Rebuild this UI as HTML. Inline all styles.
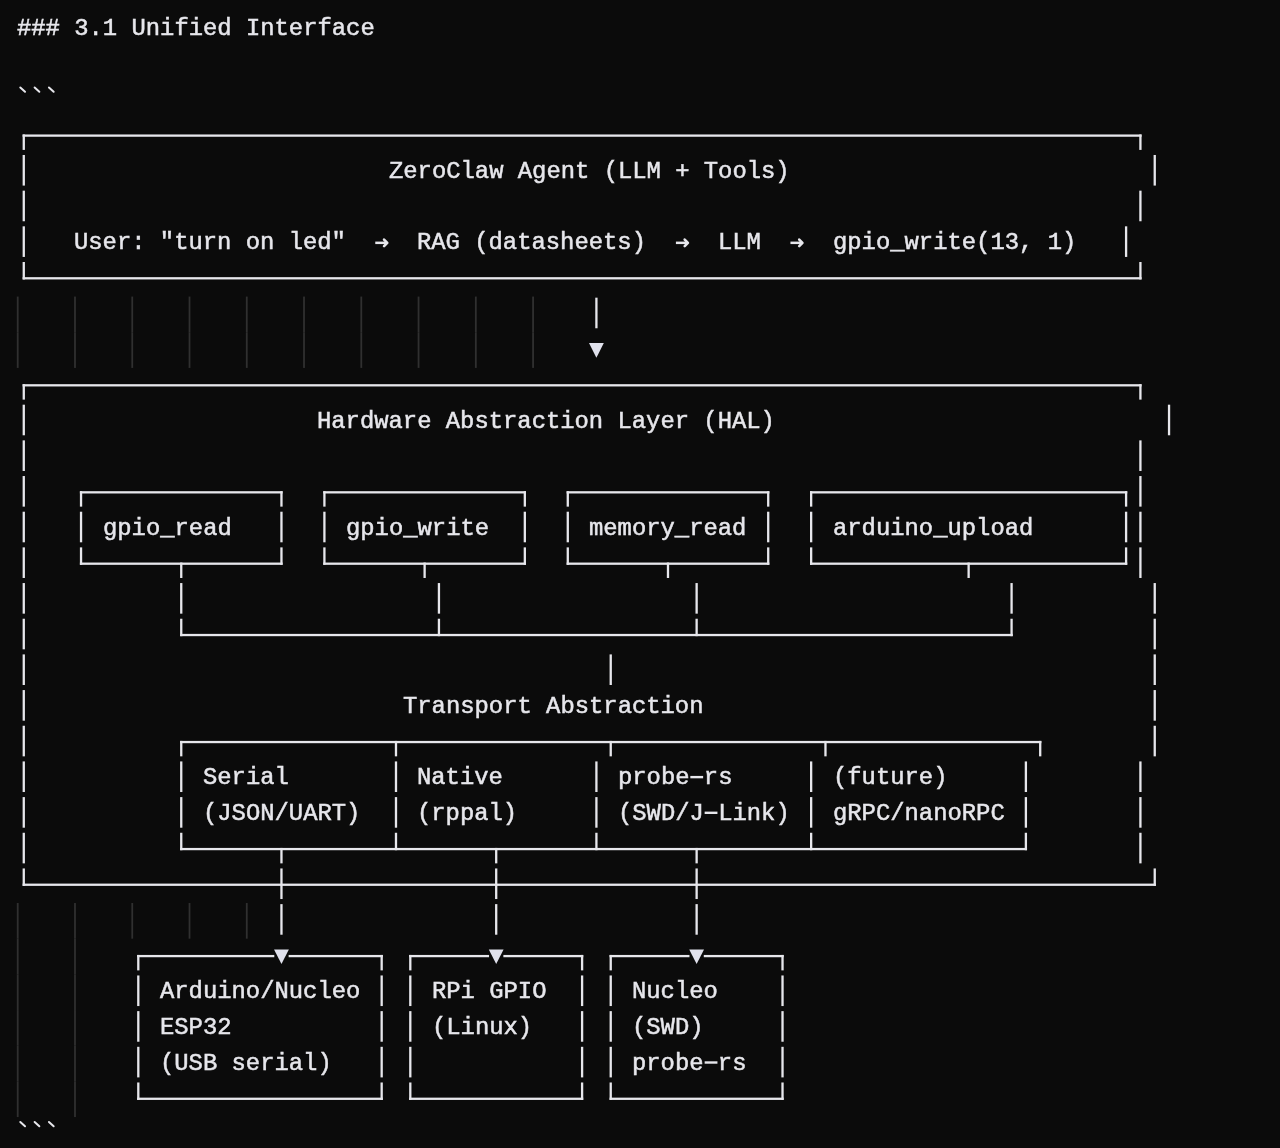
<!DOCTYPE html>
<html><head><meta charset="utf-8"><style>
html,body{margin:0;padding:0;background:#0b0b0b;width:1280px;height:1148px;overflow:hidden;}
.t{position:absolute;font-family:"Liberation Mono",monospace;font-size:23.857px;line-height:35.673px;height:35.673px;white-space:pre;color:#e7e7ec;-webkit-text-stroke:0.5px #e7e7ec;will-change:transform;}
.g{position:absolute;width:1px;height:35.67px;background:#303030;}
svg{position:absolute;left:0;top:0;}
</style></head><body>
<svg width="1280" height="1148" viewBox="0 0 1280 1148"><g fill="#303030"><rect x="16.81" y="296.57" width="1.8" height="35.67"/><rect x="74.08" y="296.57" width="1.8" height="35.67"/><rect x="131.34" y="296.57" width="1.8" height="35.67"/><rect x="188.61" y="296.57" width="1.8" height="35.67"/><rect x="245.87" y="296.57" width="1.8" height="35.67"/><rect x="303.13" y="296.57" width="1.8" height="35.67"/><rect x="360.40" y="296.57" width="1.8" height="35.67"/><rect x="417.66" y="296.57" width="1.8" height="35.67"/><rect x="474.93" y="296.57" width="1.8" height="35.67"/><rect x="532.19" y="296.57" width="1.8" height="35.67"/><rect x="16.81" y="332.25" width="1.8" height="35.67"/><rect x="74.08" y="332.25" width="1.8" height="35.67"/><rect x="131.34" y="332.25" width="1.8" height="35.67"/><rect x="188.61" y="332.25" width="1.8" height="35.67"/><rect x="245.87" y="332.25" width="1.8" height="35.67"/><rect x="303.13" y="332.25" width="1.8" height="35.67"/><rect x="360.40" y="332.25" width="1.8" height="35.67"/><rect x="417.66" y="332.25" width="1.8" height="35.67"/><rect x="474.93" y="332.25" width="1.8" height="35.67"/><rect x="532.19" y="332.25" width="1.8" height="35.67"/><rect x="16.81" y="903.01" width="1.8" height="35.67"/><rect x="74.08" y="903.01" width="1.8" height="35.67"/><rect x="131.34" y="903.01" width="1.8" height="35.67"/><rect x="188.61" y="903.01" width="1.8" height="35.67"/><rect x="245.87" y="903.01" width="1.8" height="35.67"/><rect x="16.81" y="938.69" width="1.8" height="35.67"/><rect x="74.08" y="938.69" width="1.8" height="35.67"/><rect x="16.81" y="974.36" width="1.8" height="35.67"/><rect x="74.08" y="974.36" width="1.8" height="35.67"/><rect x="16.81" y="1010.03" width="1.8" height="35.67"/><rect x="74.08" y="1010.03" width="1.8" height="35.67"/><rect x="16.81" y="1045.71" width="1.8" height="35.67"/><rect x="74.08" y="1045.71" width="1.8" height="35.67"/><rect x="16.81" y="1081.38" width="1.8" height="35.67"/><rect x="74.08" y="1081.38" width="1.8" height="35.67"/></g><g fill="#e7e7ec"><rect x="22.62" y="134.46" width="2.30" height="15.45"/><rect x="1139.27" y="134.46" width="2.30" height="15.45"/><rect x="22.62" y="134.46" width="1118.95" height="2.30"/><rect x="22.62" y="154.98" width="2.30" height="30.60"/><rect x="1153.59" y="154.98" width="2.30" height="30.60"/><rect x="22.62" y="190.66" width="2.30" height="30.60"/><rect x="1139.27" y="190.66" width="2.30" height="30.60"/><rect x="22.62" y="226.33" width="2.30" height="30.60"/><rect x="1124.95" y="226.33" width="2.30" height="30.60"/><rect x="22.62" y="262.00" width="2.30" height="17.45"/><rect x="1139.27" y="262.00" width="2.30" height="17.45"/><rect x="22.62" y="277.15" width="1118.95" height="2.30"/><rect x="595.26" y="297.67" width="2.30" height="30.60"/><rect x="22.62" y="384.17" width="2.30" height="15.45"/><rect x="1139.27" y="384.17" width="2.30" height="15.45"/><rect x="22.62" y="384.17" width="1118.95" height="2.30"/><rect x="22.62" y="404.69" width="2.30" height="30.60"/><rect x="1167.90" y="404.69" width="2.30" height="30.60"/><rect x="22.62" y="440.37" width="2.30" height="30.60"/><rect x="1139.27" y="440.37" width="2.30" height="30.60"/><rect x="22.62" y="476.04" width="2.30" height="30.60"/><rect x="79.89" y="491.19" width="2.30" height="15.45"/><rect x="280.31" y="491.19" width="2.30" height="15.45"/><rect x="323.26" y="491.19" width="2.30" height="15.45"/><rect x="523.68" y="491.19" width="2.30" height="15.45"/><rect x="566.63" y="491.19" width="2.30" height="15.45"/><rect x="767.06" y="491.19" width="2.30" height="15.45"/><rect x="810.00" y="491.19" width="2.30" height="15.45"/><rect x="1124.95" y="491.19" width="2.30" height="15.45"/><rect x="1139.27" y="476.04" width="2.30" height="30.60"/><rect x="79.89" y="491.19" width="202.72" height="2.30"/><rect x="323.26" y="491.19" width="202.72" height="2.30"/><rect x="566.63" y="491.19" width="202.72" height="2.30"/><rect x="810.00" y="491.19" width="317.25" height="2.30"/><rect x="22.62" y="511.71" width="2.30" height="30.60"/><rect x="79.89" y="511.71" width="2.30" height="30.60"/><rect x="280.31" y="511.71" width="2.30" height="30.60"/><rect x="323.26" y="511.71" width="2.30" height="30.60"/><rect x="523.68" y="511.71" width="2.30" height="30.60"/><rect x="566.63" y="511.71" width="2.30" height="30.60"/><rect x="767.06" y="511.71" width="2.30" height="30.60"/><rect x="810.00" y="511.71" width="2.30" height="30.60"/><rect x="1124.95" y="511.71" width="2.30" height="30.60"/><rect x="1139.27" y="511.71" width="2.30" height="30.60"/><rect x="22.62" y="547.38" width="2.30" height="30.60"/><rect x="79.89" y="547.38" width="2.30" height="17.45"/><rect x="180.10" y="562.54" width="2.30" height="15.45"/><rect x="280.31" y="547.38" width="2.30" height="17.45"/><rect x="323.26" y="547.38" width="2.30" height="17.45"/><rect x="423.47" y="562.54" width="2.30" height="15.45"/><rect x="523.68" y="547.38" width="2.30" height="17.45"/><rect x="566.63" y="547.38" width="2.30" height="17.45"/><rect x="666.84" y="562.54" width="2.30" height="15.45"/><rect x="767.06" y="547.38" width="2.30" height="17.45"/><rect x="810.00" y="547.38" width="2.30" height="17.45"/><rect x="967.48" y="562.54" width="2.30" height="15.45"/><rect x="1124.95" y="547.38" width="2.30" height="17.45"/><rect x="1139.27" y="547.38" width="2.30" height="30.60"/><rect x="79.89" y="562.54" width="202.72" height="2.30"/><rect x="323.26" y="562.54" width="202.72" height="2.30"/><rect x="566.63" y="562.54" width="202.72" height="2.30"/><rect x="810.00" y="562.54" width="317.25" height="2.30"/><rect x="22.62" y="583.06" width="2.30" height="30.60"/><rect x="180.10" y="583.06" width="2.30" height="30.60"/><rect x="437.79" y="583.06" width="2.30" height="30.60"/><rect x="695.48" y="583.06" width="2.30" height="30.60"/><rect x="1010.43" y="583.06" width="2.30" height="30.60"/><rect x="1153.59" y="583.06" width="2.30" height="30.60"/><rect x="22.62" y="618.73" width="2.30" height="30.60"/><rect x="180.10" y="618.73" width="2.30" height="17.45"/><rect x="437.79" y="618.73" width="2.30" height="17.45"/><rect x="695.48" y="618.73" width="2.30" height="17.45"/><rect x="1010.43" y="618.73" width="2.30" height="17.45"/><rect x="1153.59" y="618.73" width="2.30" height="30.60"/><rect x="180.10" y="633.88" width="832.63" height="2.30"/><rect x="22.62" y="654.40" width="2.30" height="30.60"/><rect x="609.58" y="654.40" width="2.30" height="30.60"/><rect x="1153.59" y="654.40" width="2.30" height="30.60"/><rect x="22.62" y="690.08" width="2.30" height="30.60"/><rect x="1153.59" y="690.08" width="2.30" height="30.60"/><rect x="22.62" y="725.75" width="2.30" height="30.60"/><rect x="180.10" y="740.90" width="2.30" height="15.45"/><rect x="394.84" y="740.90" width="2.30" height="15.45"/><rect x="609.58" y="740.90" width="2.30" height="15.45"/><rect x="824.32" y="740.90" width="2.30" height="15.45"/><rect x="1039.06" y="740.90" width="2.30" height="15.45"/><rect x="1153.59" y="725.75" width="2.30" height="30.60"/><rect x="180.10" y="740.90" width="861.26" height="2.30"/><rect x="22.62" y="761.42" width="2.30" height="30.60"/><rect x="180.10" y="761.42" width="2.30" height="30.60"/><rect x="394.84" y="761.42" width="2.30" height="30.60"/><rect x="595.26" y="761.42" width="2.30" height="30.60"/><rect x="810.00" y="761.42" width="2.30" height="30.60"/><rect x="1024.74" y="761.42" width="2.30" height="30.60"/><rect x="1139.27" y="761.42" width="2.30" height="30.60"/><rect x="690.33" y="775.92" width="12.80" height="2.40"/><rect x="22.62" y="797.10" width="2.30" height="30.60"/><rect x="180.10" y="797.10" width="2.30" height="30.60"/><rect x="394.84" y="797.10" width="2.30" height="30.60"/><rect x="595.26" y="797.10" width="2.30" height="30.60"/><rect x="810.00" y="797.10" width="2.30" height="30.60"/><rect x="1024.74" y="797.10" width="2.30" height="30.60"/><rect x="1139.27" y="797.10" width="2.30" height="30.60"/><rect x="704.64" y="811.60" width="12.80" height="2.40"/><rect x="22.62" y="832.77" width="2.30" height="30.60"/><rect x="180.10" y="832.77" width="2.30" height="17.45"/><rect x="280.31" y="847.92" width="2.30" height="15.45"/><rect x="394.84" y="832.77" width="2.30" height="17.45"/><rect x="495.05" y="847.92" width="2.30" height="15.45"/><rect x="595.26" y="832.77" width="2.30" height="17.45"/><rect x="695.48" y="847.92" width="2.30" height="15.45"/><rect x="810.00" y="832.77" width="2.30" height="17.45"/><rect x="1024.74" y="832.77" width="2.30" height="17.45"/><rect x="1139.27" y="832.77" width="2.30" height="30.60"/><rect x="180.10" y="847.92" width="846.94" height="2.30"/><rect x="22.62" y="868.44" width="2.30" height="17.45"/><rect x="280.31" y="868.44" width="2.30" height="30.60"/><rect x="495.05" y="868.44" width="2.30" height="30.60"/><rect x="695.48" y="868.44" width="2.30" height="30.60"/><rect x="1153.59" y="868.44" width="2.30" height="17.45"/><rect x="22.62" y="883.59" width="1133.26" height="2.30"/><rect x="280.31" y="904.12" width="2.30" height="30.60"/><rect x="495.05" y="904.12" width="2.30" height="30.60"/><rect x="695.48" y="904.12" width="2.30" height="30.60"/><rect x="137.15" y="954.94" width="2.30" height="15.45"/><rect x="380.52" y="954.94" width="2.30" height="15.45"/><rect x="409.16" y="954.94" width="2.30" height="15.45"/><rect x="580.95" y="954.94" width="2.30" height="15.45"/><rect x="609.58" y="954.94" width="2.30" height="15.45"/><rect x="781.37" y="954.94" width="2.30" height="15.45"/><rect x="137.15" y="954.94" width="137.15" height="2.30"/><rect x="288.62" y="954.94" width="94.20" height="2.30"/><rect x="409.16" y="954.94" width="79.89" height="2.30"/><rect x="503.36" y="954.94" width="79.89" height="2.30"/><rect x="609.58" y="954.94" width="79.89" height="2.30"/><rect x="703.78" y="954.94" width="79.89" height="2.30"/><rect x="137.15" y="975.46" width="2.30" height="30.60"/><rect x="380.52" y="975.46" width="2.30" height="30.60"/><rect x="409.16" y="975.46" width="2.30" height="30.60"/><rect x="580.95" y="975.46" width="2.30" height="30.60"/><rect x="609.58" y="975.46" width="2.30" height="30.60"/><rect x="781.37" y="975.46" width="2.30" height="30.60"/><rect x="137.15" y="1011.13" width="2.30" height="30.60"/><rect x="380.52" y="1011.13" width="2.30" height="30.60"/><rect x="409.16" y="1011.13" width="2.30" height="30.60"/><rect x="580.95" y="1011.13" width="2.30" height="30.60"/><rect x="609.58" y="1011.13" width="2.30" height="30.60"/><rect x="781.37" y="1011.13" width="2.30" height="30.60"/><rect x="137.15" y="1046.81" width="2.30" height="30.60"/><rect x="380.52" y="1046.81" width="2.30" height="30.60"/><rect x="409.16" y="1046.81" width="2.30" height="30.60"/><rect x="580.95" y="1046.81" width="2.30" height="30.60"/><rect x="609.58" y="1046.81" width="2.30" height="30.60"/><rect x="781.37" y="1046.81" width="2.30" height="30.60"/><rect x="704.64" y="1061.31" width="12.80" height="2.40"/><rect x="137.15" y="1082.48" width="2.30" height="17.45"/><rect x="380.52" y="1082.48" width="2.30" height="17.45"/><rect x="409.16" y="1082.48" width="2.30" height="17.45"/><rect x="580.95" y="1082.48" width="2.30" height="17.45"/><rect x="609.58" y="1082.48" width="2.30" height="17.45"/><rect x="781.37" y="1082.48" width="2.30" height="17.45"/><rect x="137.15" y="1097.63" width="245.67" height="2.30"/><rect x="409.16" y="1097.63" width="174.09" height="2.30"/><rect x="609.58" y="1097.63" width="174.09" height="2.30"/></g><path fill="none" stroke="#e7e7ec" stroke-width="2.0" stroke-linecap="round" d="M20.31 87.44L25.02 91.74"/><path fill="none" stroke="#e7e7ec" stroke-width="2.0" stroke-linecap="round" d="M34.63 87.44L39.33 91.74"/><path fill="none" stroke="#e7e7ec" stroke-width="2.0" stroke-linecap="round" d="M48.95 87.44L53.65 91.74"/><path fill="none" stroke="#e7e7ec" stroke-width="2.5" stroke-linecap="butt" d="M375.27 242.83H386.67"/><path fill="none" stroke="#e7e7ec" stroke-width="2.6" stroke-linecap="round" stroke-linejoin="round" d="M384.07 239.53L387.27 242.83L384.07 246.13"/><path fill="none" stroke="#e7e7ec" stroke-width="2.5" stroke-linecap="butt" d="M675.91 242.83H687.31"/><path fill="none" stroke="#e7e7ec" stroke-width="2.6" stroke-linecap="round" stroke-linejoin="round" d="M684.71 239.53L687.91 242.83L684.71 246.13"/><path fill="none" stroke="#e7e7ec" stroke-width="2.5" stroke-linecap="butt" d="M790.44 242.83H801.84"/><path fill="none" stroke="#e7e7ec" stroke-width="2.6" stroke-linecap="round" stroke-linejoin="round" d="M799.24 239.53L802.44 242.83L799.24 246.13"/><polygon fill="#e0e1ec" points="589.01,342.95 603.81,342.95 596.41,357.65"/><polygon fill="#e0e1ec" points="274.06,949.39 288.86,949.39 281.46,964.09"/><polygon fill="#e0e1ec" points="488.80,949.39 503.60,949.39 496.20,964.09"/><polygon fill="#e0e1ec" points="689.23,949.39 704.03,949.39 696.63,964.09"/><path fill="none" stroke="#e7e7ec" stroke-width="2.0" stroke-linecap="round" d="M20.31 1121.95L25.02 1126.25"/><path fill="none" stroke="#e7e7ec" stroke-width="2.0" stroke-linecap="round" d="M34.63 1121.95L39.33 1126.25"/><path fill="none" stroke="#e7e7ec" stroke-width="2.0" stroke-linecap="round" d="M48.95 1121.95L53.65 1126.25"/></svg>
<div class="t" style="left:16.61px;top:11.29px">### 3.1 Unified Interface</div><div class="t" style="left:388.83px;top:153.98px">ZeroClaw Agent (LLM + Tools)</div><div class="t" style="left:73.88px;top:225.33px">User: &quot;turn on led&quot;</div><div class="t" style="left:417.46px;top:225.33px">RAG (datasheets)</div><div class="t" style="left:718.10px;top:225.33px">LLM</div><div class="t" style="left:832.63px;top:225.33px">gpio_write(13, 1)</div><div class="t" style="left:317.25px;top:403.69px">Hardware Abstraction Layer (HAL)</div><div class="t" style="left:102.51px;top:510.71px">gpio_read</div><div class="t" style="left:345.88px;top:510.71px">gpio_write</div><div class="t" style="left:589.25px;top:510.71px">memory_read</div><div class="t" style="left:832.63px;top:510.71px">arduino_upload</div><div class="t" style="left:403.15px;top:689.08px">Transport Abstraction</div><div class="t" style="left:202.72px;top:760.42px">Serial</div><div class="t" style="left:417.46px;top:760.42px">Native</div><div class="t" style="left:617.89px;top:760.42px">probe rs</div><div class="t" style="left:832.63px;top:760.42px">(future)</div><div class="t" style="left:202.72px;top:796.10px">(JSON/UART)</div><div class="t" style="left:417.46px;top:796.10px">(rppal)</div><div class="t" style="left:617.89px;top:796.10px">(SWD/J Link)</div><div class="t" style="left:832.63px;top:796.10px">gRPC/nanoRPC</div><div class="t" style="left:159.78px;top:974.46px">Arduino/Nucleo</div><div class="t" style="left:431.78px;top:974.46px">RPi GPIO</div><div class="t" style="left:632.20px;top:974.46px">Nucleo</div><div class="t" style="left:159.78px;top:1010.13px">ESP32</div><div class="t" style="left:431.78px;top:1010.13px">(Linux)</div><div class="t" style="left:632.20px;top:1010.13px">(SWD)</div><div class="t" style="left:159.78px;top:1045.81px">(USB serial)</div><div class="t" style="left:632.20px;top:1045.81px">probe rs</div>
</body></html>
